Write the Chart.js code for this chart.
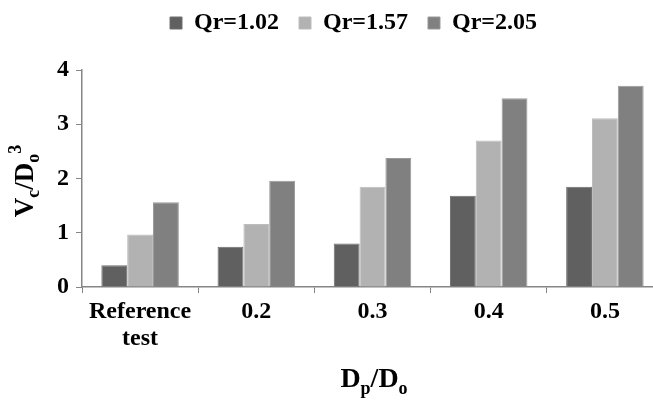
<!DOCTYPE html>
<html>
<head>
<meta charset="utf-8">
<script src="https://cdn.jsdelivr.net/npm/chart.js@4.4.0/dist/chart.umd.min.js"></script>
<style>
  html, body { margin: 0; padding: 0; background: #fff; overflow: hidden; }
  #wrap { width: 670px; height: 401px; }
</style>
</head>
<body>
<div id="wrap"><canvas id="chart"></canvas></div>
<script>
// data
const categories = [['Reference', 'test'], '0.2', '0.3', '0.4', '0.5'];
const seriesNames = ['Qr=1.02', 'Qr=1.57', 'Qr=2.05'];
const qr102 = [0.40, 0.74, 0.80, 1.68, 1.85];
const qr157 = [0.97, 1.16, 1.85, 2.70, 3.11];
const qr205 = [1.56, 1.96, 2.38, 3.48, 3.71];
const yTicks = [0, 1, 2, 3, 4];

const FONT = '"Liberation Serif", "Times New Roman", serif';
const axisGray = '#868686';

// draws text with sub / superscript parts, centred on (x, y)
function richText(ctx, parts, x, y, size) {
  const small = Math.round(size * 0.65);
  let total = 0;
  parts.forEach(p => {
    ctx.font = 'bold ' + (p.s ? small : size) + 'px ' + FONT;
    p.w = ctx.measureText(p.t).width;
    total += p.w;
  });
  let cx = x - total / 2;
  parts.forEach(p => {
    ctx.font = 'bold ' + (p.s ? small : size) + 'px ' + FONT;
    let dy = 0;
    if (p.s === 'sub') dy = size * 0.24;
    if (p.s === 'sup') dy = -size * 0.45;
    ctx.fillText(p.t, cx, y + dy);
    cx += p.w;
  });
}

const titlesPlugin = {
  id: 'titles',
  afterLayout(chart) {
    // legend sits higher and a bit right of centre in the reference
    const lg = chart.legend;
    lg.left += 22; lg.right += 22;
    lg.top -= 25; lg.bottom -= 25;
  },
  afterDraw(chart) {
    const ctx = chart.ctx;
    ctx.save();
    ctx.fillStyle = '#000';
    ctx.textBaseline = 'alphabetic';
    ctx.textAlign = 'left';
    richText(ctx, [{t: 'D'}, {t: 'p', s: 'sub'}, {t: '/D'}, {t: 'o', s: 'sub'}], 374, 387, 28);
    ctx.translate(33, 181);
    ctx.rotate(-Math.PI / 2);
    richText(ctx, [{t: 'V'}, {t: 'c', s: 'sub'}, {t: '/D'}, {t: 'o', s: 'sub'}, {t: '3', s: 'sup'}], 0, 0, 27);
    ctx.restore();
  }
};

const ctx = document.getElementById('chart').getContext('2d');
new Chart(ctx, {
  type: 'bar',
  data: {
    labels: categories,
    datasets: [
      { label: seriesNames[0], data: qr102, backgroundColor: '#606060', borderColor: '#6e6e6e', borderWidth: 1 },
      { label: seriesNames[1], data: qr157, backgroundColor: '#b2b2b2', borderColor: '#bdbdbd', borderWidth: 1 },
      { label: seriesNames[2], data: qr205, backgroundColor: '#808080', borderColor: '#999999', borderWidth: 1 }
    ]
  },
  options: {
    responsive: true,
    maintainAspectRatio: false,
    animation: false,
    layout: { padding: { top: 16, right: 7, left: 0, bottom: 0 } },
    datasets: { bar: { categoryPercentage: 0.667, barPercentage: 1.0 } },
    plugins: {
      legend: {
        position: 'top',
        labels: {
          boxWidth: 12, boxHeight: 12, padding: 20,
          color: '#000',
          font: { family: FONT, size: 24, weight: 'bold' }
        }
      },
      tooltip: { enabled: false }
    },
    scales: {
      x: {
        afterFit(s) { s.height = 114; },
        grid: { drawOnChartArea: false, drawTicks: true, tickLength: 6, color: axisGray },
        border: { color: axisGray, width: 1.5 },
        ticks: { color: '#000', padding: 6, maxRotation: 0, font: { family: FONT, size: 24, weight: 'bold', lineHeight: 1.1 } }
      },
      y: {
        min: 0, max: 4,
        afterFit(s) { s.width = 82; },
        afterBuildTicks(s) { s.ticks = yTicks.map(v => ({ value: v })); },
        grid: { drawOnChartArea: false, drawTicks: true, tickLength: 6, color: axisGray },
        border: { color: axisGray, width: 1.5 },
        ticks: { color: '#000', padding: 7, font: { family: FONT, size: 24, weight: 'bold' } }
      }
    }
  },
  plugins: [titlesPlugin]
});
</script>
</body>
</html>
